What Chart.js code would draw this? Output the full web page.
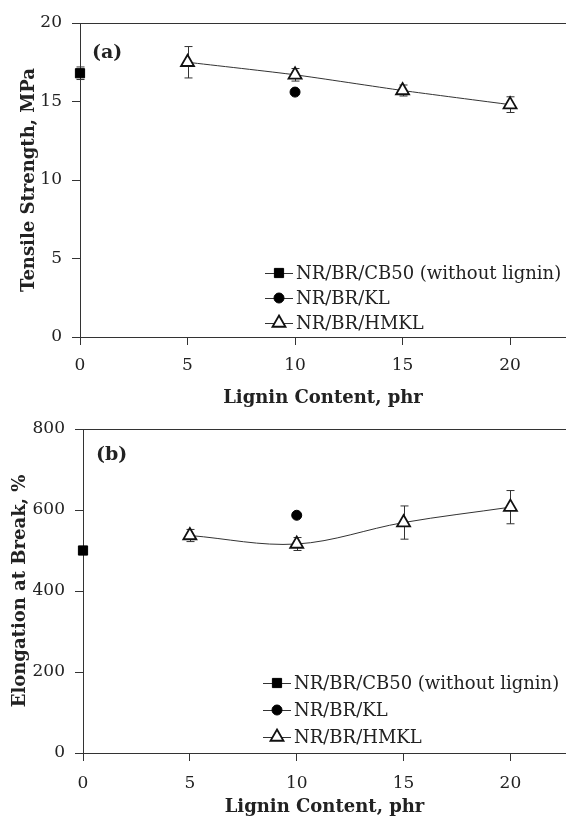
<!DOCTYPE html>
<html><head><meta charset="utf-8">
<script src="https://cdn.jsdelivr.net/npm/chart.js@4/dist/chart.umd.min.js"></script>
<style>html,body{margin:0;padding:0;background:#fff;}canvas{display:block;}</style>
</head><body>
<canvas id="chartA" width="566" height="408"></canvas>
<canvas id="chartB" width="566" height="408"></canvas>
<script>
// ---- data ----
const xTicks = [0, 5, 10, 15, 20];
const seriesNames = ['NR/BR/CB50 (without lignin)', 'NR/BR/KL', 'NR/BR/HMKL'];
const cb50X = [0];
const klX = [10];
const hmklX = [5, 10, 15, 20];
// (a) tensile strength, MPa
const tsTicks = [0, 5, 10, 15, 20];
const tsCB50 = [16.8];
const tsCB50Err = [0.4];
const tsKL = [15.6];
const tsHMKL = [17.5, 16.7, 15.7, 14.8];
const tsHMKLErr = [1.0, 0.4, 0.35, 0.5];
// (b) elongation at break, %
const ebTicks = [0, 200, 400, 600, 800];
const ebCB50 = [500];
const ebKL = [587];
const ebHMKL = [537, 516, 569, 607];
const ebHMKLErr = [15, 16, 41, 41];

// ---- style ----
const SERIF = "'DejaVu Serif', 'Liberation Serif', serif";
const INK = '#222';
const LINE = '#333';

const pts = (xs, ys) => xs.map((x, i) => ({x, y: ys[i]}));

const overlay = {
  id: 'overlay',
  beforeDatasetsDraw(chart, args, o) {
    const ctx = chart.ctx, xs = chart.scales.x, ys = chart.scales.y;
    ctx.save();
    ctx.strokeStyle = LINE; ctx.lineWidth = 1;
    (o.errors || []).forEach(e => {
      chart.data.datasets[e.ds].data.forEach((p, i) => {
        const px = Math.round(xs.getPixelForValue(p.x)) + 0.5;
        const y1 = ys.getPixelForValue(p.y + e.err[i]);
        const y2 = ys.getPixelForValue(p.y - e.err[i]);
        ctx.beginPath();
        ctx.moveTo(px, y1); ctx.lineTo(px, y2);
        ctx.moveTo(px - 4, y1); ctx.lineTo(px + 4, y1);
        ctx.moveTo(px - 4, y2); ctx.lineTo(px + 4, y2);
        ctx.stroke();
      });
    });
    ctx.restore();
  },
  afterDraw(chart, args, o) {
    const ctx = chart.ctx, a = chart.chartArea;
    ctx.save();
    // panel label
    ctx.fillStyle = INK;
    ctx.font = 'bold 19px ' + SERIF;
    ctx.textBaseline = 'middle'; ctx.textAlign = 'left';
    ctx.fillText(o.panel, a.left + o.panelDx, a.top + o.panelDy);
    // legend
    const x0 = a.right - o.legendRight;
    chart.data.datasets.forEach((ds, i) => {
      const y = a.bottom - o.legendBottom + i * o.legendGap;
      ctx.strokeStyle = LINE; ctx.lineWidth = 1;
      ctx.beginPath(); ctx.moveTo(x0, y + 0.5); ctx.lineTo(x0 + 28, y + 0.5); ctx.stroke();
      ctx.fillStyle = ds.pointBackgroundColor; ctx.strokeStyle = ds.pointBorderColor;
      ctx.lineWidth = ds.pointBorderWidth;
      Chart.helpers.drawPoint(ctx, {pointStyle: ds.pointStyle, radius: ds.pointRadius, borderWidth: ds.pointBorderWidth, rotation: 0}, x0 + 14, y);
      ctx.fillStyle = INK;
      ctx.font = '18px ' + SERIF;
      ctx.textBaseline = 'middle';
      ctx.fillText(ds.label, x0 + 31, y + 1);
    });
    ctx.restore();
  }
};

function build(id, cfg) {
  const yMax = cfg.yTicks[cfg.yTicks.length - 1];
  return new Chart(document.getElementById(id), {
    type: 'scatter',
    data: {
      datasets: [
        {label: seriesNames[0], data: pts(cb50X, cfg.cb50), pointStyle: 'rect', pointRadius: 6.5,
         pointBackgroundColor: '#000', pointBorderColor: '#000', pointBorderWidth: 1, showLine: false, clip: false},
        {label: seriesNames[1], data: pts(klX, cfg.kl), pointStyle: 'circle', pointRadius: 5,
         pointBackgroundColor: '#000', pointBorderColor: '#000', pointBorderWidth: 1, showLine: false, clip: false},
        {label: seriesNames[2], data: pts(hmklX, cfg.hmkl), pointStyle: 'triangle', pointRadius: 7.5,
         pointBackgroundColor: '#fff', pointBorderColor: '#111', pointBorderWidth: 1.8,
         showLine: true, borderColor: LINE, borderWidth: 1, tension: cfg.tension, clip: false}
      ]
    },
    options: {
      responsive: false, animation: false, devicePixelRatio: 1, events: [],
      layout: {autoPadding: false, padding: {top: cfg.top, right: 0, bottom: 0, left: 0}},
      plugins: {
        legend: {display: false}, tooltip: {enabled: false},
        overlay: cfg.overlay
      },
      scales: {
        x: {
          type: 'linear', min: 0, max: 22.6,
          afterBuildTicks: s => { s.ticks = xTicks.map(v => ({value: v})); },
          afterFit: s => { s.height = cfg.xHeight; s.paddingLeft = 0; s.paddingRight = 0; },
          grid: {drawOnChartArea: false, tickColor: LINE, tickLength: 8},
          border: {color: LINE, width: 1},
          ticks: {color: INK, font: {family: SERIF, size: 17}, padding: cfg.xTickPad, maxRotation: 0},
          title: {display: true, text: 'Lignin Content, phr', color: INK,
                  font: {family: SERIF, size: 18, weight: 'bold', lineHeight: 1}, padding: {top: 0, bottom: cfg.xTitlePad}}
        },
        y: {
          min: 0, max: yMax,
          afterBuildTicks: s => { s.ticks = cfg.yTicks.map(v => ({value: v})); },
          afterFit: s => { s.width = cfg.yWidth; s.paddingTop = 0; s.paddingBottom = 0; },
          grid: {color: c => (c.tick && c.tick.value === yMax) ? LINE : 'rgba(0,0,0,0)', tickColor: LINE, tickLength: 8},
          border: {color: LINE, width: 1},
          ticks: {color: INK, font: {family: SERIF, size: 17}, padding: 10},
          title: {display: true, text: cfg.yTitle, color: INK,
                  font: {family: SERIF, size: 18, weight: 'bold', lineHeight: 1}, padding: {top: cfg.yTitlePad, bottom: 0}}
        }
      }
    },
    plugins: [overlay]
  });
}

build('chartA', {
  yTicks: tsTicks, cb50: tsCB50, kl: tsKL, hmkl: tsHMKL, tension: 0.2,
  top: 23, xHeight: 71, yWidth: 80, xTickPad: 10, xTitlePad: 1, yTitlePad: 20,
  yTitle: 'Tensile Strength, MPa',
  overlay: {errors: [{ds: 0, err: tsCB50Err}, {ds: 2, err: tsHMKLErr}],
            panel: '(a)', panelDx: 12, panelDy: 30, legendRight: 301, legendBottom: 64, legendGap: 25}
});
build('chartB', {
  yTicks: ebTicks, cb50: ebCB50, kl: ebKL, hmkl: ebHMKL, tension: 0.35,
  top: 21, xHeight: 63, yWidth: 83, xTickPad: 12, xTitlePad: 0, yTitlePad: 11,
  yTitle: 'Elongation at Break, %',
  overlay: {errors: [{ds: 2, err: ebHMKLErr}],
            panel: '(b)', panelDx: 13, panelDy: 26, legendRight: 303, legendBottom: 70, legendGap: 27}
});
</script>
</body></html>
